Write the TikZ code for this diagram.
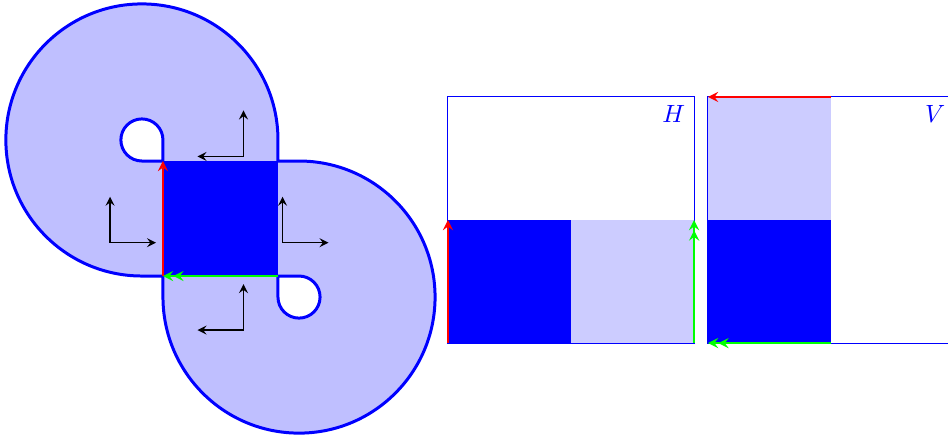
\documentclass[tikz,border=0pt]{standalone}
\usepackage{amsmath,amssymb}
\usepackage{tikz}
\usetikzlibrary{arrows.meta,calc}
\definecolor{lobecol}{RGB}{191,191,255}
\definecolor{cellcol}{RGB}{204,204,255}

\begin{document}
\begin{tikzpicture}[x=1.62cm,y=1.62cm,>=stealth]
\def\loopr{0.183}
\def\lober{1.183}
\def\half{1.07}
\useasboundingbox (-1.417,-1.374) rectangle (6.826,2.4);
% left: two lobes glued along the square
\begin{scope}
\coordinate (sw) at (0,0);
\coordinate (se) at (1,0);
\coordinate (nw) at (0,1);
\coordinate (ne) at (1,1);
\fill[lobecol,even odd rule] (0,0) -- (-\loopr,0) arc[start angle=-90,end angle=-360,radius=\lober]
  -- (1,1) -- (0,1) -- cycle
  (0,1) -- (0,1+\loopr) arc[start angle=0,end angle=270,radius=\loopr] -- cycle;
\fill[lobecol,even odd rule] (1,1) -- (1+\loopr,1) arc[start angle=90,end angle=-180,radius=\lober]
  -- (0,0) -- (1,0) -- cycle
  (1,0) -- (1,-\loopr) arc[start angle=180,end angle=450,radius=\loopr] -- cycle;
\fill[blue] (sw) rectangle (ne);
\draw[blue,very thick] (0,0) -- (-\loopr,0) arc[start angle=-90,end angle=-360,radius=\lober]
  -- (1,1) -- (1+\loopr,1) arc[start angle=90,end angle=-180,radius=\lober] -- (0,0);
\draw[blue,very thick] (0,1) -- (0,1+\loopr) arc[start angle=0,end angle=270,radius=\loopr] -- cycle;
\draw[blue,very thick] (1,0) -- (1,-\loopr) arc[start angle=180,end angle=450,radius=\loopr] -- cycle;
\draw[red,thick,->] (sw) -- (nw);
\draw[green,thick,->>] (se) -- (sw);
% local frames
\foreach \n/\cx/\cy/\dx in {fl/-0.46/0.29/0.4, fr/1.04/0.29/0.4, ft/0.7/1.04/-0.4, fb/0.7/-0.47/-0.4}{
  \coordinate (\n) at (\cx,\cy);
  \coordinate (\n-a) at (\cx+\dx,\cy);
  \coordinate (\n-b) at (\cx,\cy+0.4);
  \draw[semithick,<->] (\n-b) -- (\n) -- (\n-a);
}
\end{scope}
% middle: H
\begin{scope}[shift={(2.478,-0.583)}]
\coordinate (h-sw) at (0,0);
\coordinate (h-w) at (0,\half);
\coordinate (h-se) at (2*\half,0);
\coordinate (h-e) at (2*\half,\half);
\fill[blue] (0,0) rectangle (\half,\half);
\fill[cellcol] (\half,0) rectangle (2*\half,\half);
\draw[blue,thin] (0,0) rectangle (2*\half,2*\half);
\node[anchor=north east,text=blue] (hlab) at (2*\half,2*\half) {$H$};
\draw[red,thick,->] (h-sw) -- (h-w);
\draw[green,thick,->>] (h-se) -- (h-e);
\end{scope}
% right: V
\begin{scope}[shift={(4.739,-0.583)}]
\coordinate (v-sw) at (0,0);
\coordinate (v-nw) at (0,2*\half);
\coordinate (v-s) at (\half,0);
\coordinate (v-n) at (\half,2*\half);
\fill[blue] (0,0) rectangle (\half,\half);
\fill[cellcol] (0,\half) rectangle (\half,2*\half);
\draw[blue,thin] (0,0) rectangle (2*\half,2*\half);
\node[anchor=north east,text=blue] (vlab) at (2*\half,2*\half) {$V$};
\draw[red,thick,->] (v-n) -- (v-nw);
\draw[green,thick,->>] (v-s) -- (v-sw);
\end{scope}
\end{tikzpicture}
\end{document}
